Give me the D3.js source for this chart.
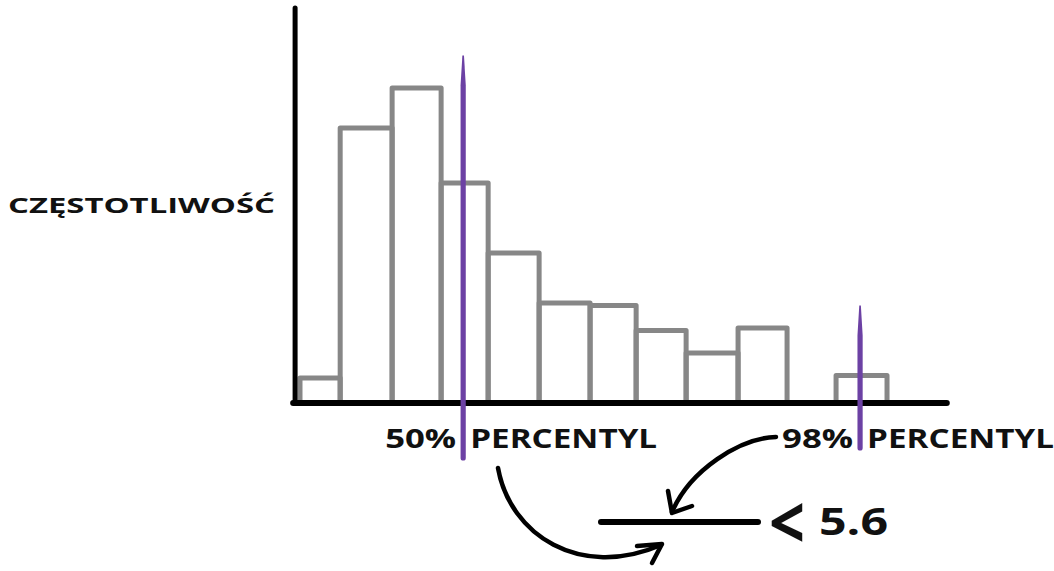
<!DOCTYPE html>
<html>
<head>
<meta charset="utf-8">
<script src="https://cdn.jsdelivr.net/npm/d3@7"></script>
<style>
  body { margin: 0; background: #fff; }
  text { font-family: "Open Sans", "DejaVu Sans", sans-serif; font-weight: 700; fill: #111; }
</style>
</head>
<body>
<div id="chart"></div>
<script>
// histogram bins (edges in bin units) and heights
const binEdges = [0, 0.82, 1.88, 2.88, 3.84, 4.88, 5.92, 6.86, 7.88, 8.94, 9.94, 10.94, 11.98];
const freq = [1, 11, 12.6, 8.8, 6, 4, 3.9, 2.9, 2, 3, 0, 1.1];
const percentiles = [
    { value: 3.33, pct: "50%", top: 13.9, bottom: -2.2 },
    { value: 11.43, pct: "98%", top: 3.9, bottom: -1.8 }
];
const yLabel = "CZĘSTOTLIWOŚĆ";
const pctWord = "PERCENTYL";
const boundSign = "<";
const boundValue = "5.6";

const width = 1054, height = 571;

const svg = d3.select("#chart")
    .append("svg")
    .attr("width", width)
    .attr("height", height);

svg.append("rect").attr("width", width).attr("height", height).attr("fill", "#fff");

const x = d3.scaleLinear()
    .domain([0, 12])
    .range([300, 888]);

const y = d3.scaleLinear()
    .domain([0, 1])
    .range([403, 378]);

// bars, drawn as open outlines
const bars = freq.map((f, i) => ({ x0: binEdges[i], x1: binEdges[i + 1], f }))
    .filter(d => d.f > 0);

svg.append("g")
    .selectAll("path")
    .data(bars)
    .enter().append("path")
    .attr("d", d => `M${x(d.x0)},${y(0)}V${y(d.f)}H${x(d.x1)}V${y(0)}`)
    .attr("fill", "none")
    .attr("stroke", "#878787")
    .attr("stroke-width", 5)
    .attr("stroke-linejoin", "round")
    .attr("stroke-linecap", "round");

// axes
svg.append("line")
    .attr("x1", x(-0.1)).attr("x2", x(-0.1))
    .attr("y1", y(15.8)).attr("y2", y(0))
    .attr("stroke", "#000").attr("stroke-width", 5).attr("stroke-linecap", "round");
svg.append("line")
    .attr("x1", x(-0.14)).attr("x2", x(13.2))
    .attr("y1", y(0)).attr("y2", y(0))
    .attr("stroke", "#000").attr("stroke-width", 6).attr("stroke-linecap", "round");

// y label
svg.append("text")
    .attr("x", 8)
    .attr("y", 213)
    .attr("font-size", 21)
    .attr("textLength", 267)
    .attr("lengthAdjust", "spacingAndGlyphs")
    .text(yLabel);

// percentile lines + labels
const pg = svg.append("g")
    .selectAll("g")
    .data(percentiles)
    .enter().append("g");

pg.append("text")
    .attr("x", d => x(d.value) - 7)
    .attr("y", 448)
    .attr("text-anchor", "end")
    .attr("font-size", 27)
    .attr("textLength", 71)
    .attr("lengthAdjust", "spacingAndGlyphs")
    .text(d => d.pct);

pg.append("text")
    .attr("x", d => x(d.value) + 7)
    .attr("y", 448)
    .attr("font-size", 27)
    .attr("textLength", 187)
    .attr("lengthAdjust", "spacingAndGlyphs")
    .text(pctWord);

// tapered purple strokes
pg.append("path")
    .attr("d", d => {
        const cx = x(d.value), t = y(d.top), b = y(d.bottom);
        return `M${cx - 0.8},${t} L${cx + 0.8},${t} L${cx + 2.6},${t + 30} L${cx + 2.6},${b} ` +
            `A2.6,2.6 0 0 1 ${cx - 2.6},${b} L${cx - 2.6},${t + 30} Z`;
    })
    .attr("fill", "#6c41a4");

// fraction bar and bound
svg.append("line")
    .attr("x1", 601).attr("x2", 758)
    .attr("y1", 522).attr("y2", 522)
    .attr("stroke", "#000").attr("stroke-width", 6).attr("stroke-linecap", "round");

svg.append("text")
    .attr("x", 769)
    .attr("y", 549)
    .attr("font-size", 74)
    .attr("font-weight", 300)
    .attr("textLength", 36)
    .attr("lengthAdjust", "spacingAndGlyphs")
    .text(boundSign);

svg.append("text")
    .attr("x", 819)
    .attr("y", 535)
    .attr("font-size", 37)
    .attr("textLength", 69)
    .attr("lengthAdjust", "spacingAndGlyphs")
    .text(boundValue);

// arrows
const arrows = svg.append("g")
    .attr("fill", "none")
    .attr("stroke", "#000")
    .attr("stroke-width", 4.5)
    .attr("stroke-linecap", "round")
    .attr("stroke-linejoin", "round");

arrows.append("path").attr("d", "M498,468 C510,535 580,580 661,545");
arrows.append("path").attr("d", "M637,546 L662,544 L652,563");

arrows.append("path").attr("d", "M776,437 C740,438 690,470 672,512");
arrows.append("path").attr("d", "M668,491 L672,513 L692,506");
</script>
</body>
</html>
